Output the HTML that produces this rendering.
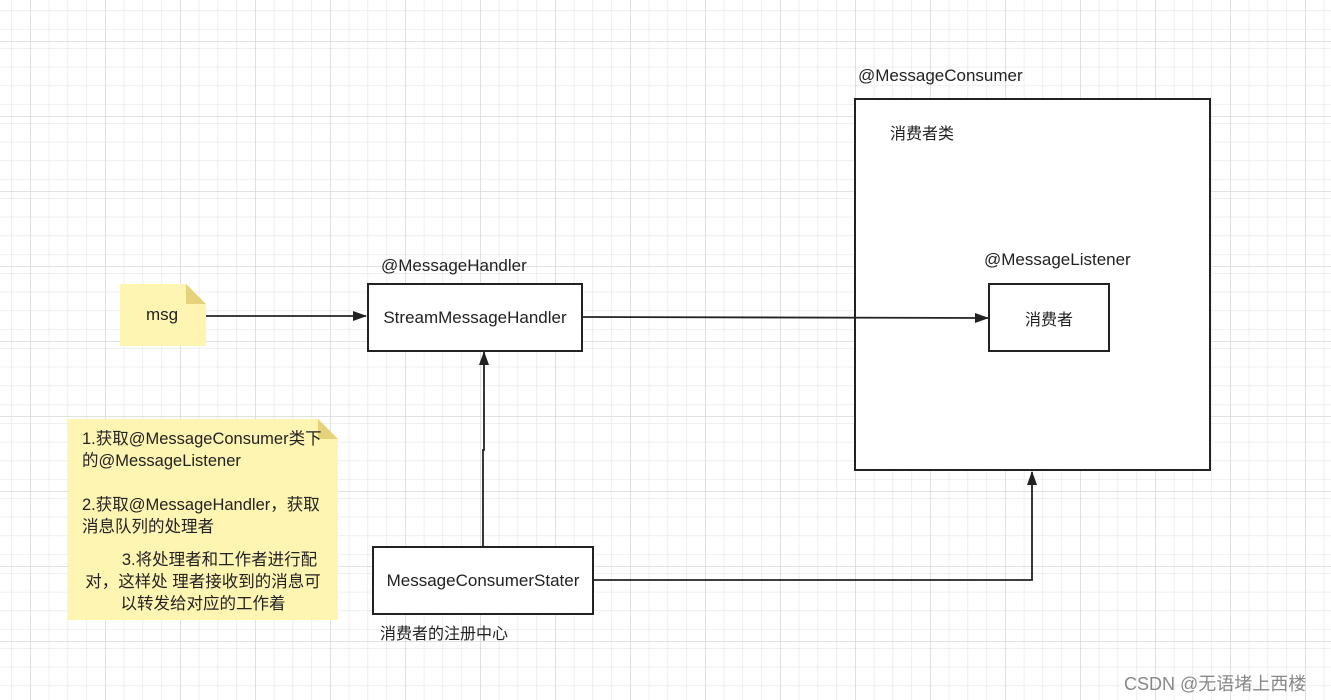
<!DOCTYPE html>
<html><head><meta charset="utf-8"><style>
body{margin:0;width:1331px;height:700px;overflow:hidden;background:#fff;font-family:"Liberation Sans","Noto Sans CJK SC",sans-serif;}
.t{position:absolute;font-size:17px;color:#222;white-space:nowrap}
.box{position:absolute;border:2px solid #222;background:#fff;box-sizing:border-box;display:flex;align-items:center;justify-content:center;font-size:17px;color:#222}
</style></head><body>
<svg width="1331" height="700" style="position:absolute;left:0;top:0">
<defs>
<pattern id="g" x="11.25" y="10.5" width="18.75" height="18.75" patternUnits="userSpaceOnUse"><path d="M0 0H18.75M0 0V18.75" stroke="#e6e6e6" stroke-width="1.3" fill="none"/></pattern>
<pattern id="G" x="30" y="41" width="75" height="75" patternUnits="userSpaceOnUse"><path d="M0 0H75M0 0V75" stroke="#d8d8d8" stroke-width="1.5" fill="none"/></pattern>
<marker id="a" markerWidth="14" markerHeight="12" refX="13" refY="6" orient="auto" markerUnits="userSpaceOnUse"><path d="M0 1L14 6L0 11Z" fill="#222"/></marker>
</defs>
<rect width="1331" height="700" fill="url(#g)"/>
<rect width="1331" height="700" fill="url(#G)"/>
<polygon points="120,284 186,284 206,304 206,346 120,346" fill="#fff5b3"/>
<polygon points="186,284 206,304 186,304" fill="#e6d27a"/>
<polygon points="68,419 318,419 338,439 338,620 68,620" fill="#fff5b3"/>
<polygon points="318,419 338,439 318,439" fill="#e6d27a"/>
<rect x="855" y="99" width="355" height="371" fill="#fff" stroke="#222" stroke-width="2"/>
<g stroke="#222" stroke-width="1.8" fill="none">
<line x1="206" y1="316" x2="366" y2="316" marker-end="url(#a)"/>
<line x1="583" y1="317" x2="988" y2="318" marker-end="url(#a)"/>
<polyline points="483,546 483,450 484,450 484,352" marker-end="url(#a)"/>
<polyline points="594,580 1032,580 1032,472" marker-end="url(#a)"/>
</g>
</svg>
<div class="t" style="left:146px;top:305px">msg</div>
<div class="t" style="left:381px;top:256px">@MessageHandler</div>
<div class="box" style="left:367px;top:283px;width:216px;height:69px">StreamMessageHandler</div>
<div class="t" style="left:858px;top:66px">@MessageConsumer</div>
<div class="t" style="left:890px;top:120px;font-size:16px">消费者类</div>
<div class="t" style="left:984px;top:250px">@MessageListener</div>
<div class="box" style="left:988px;top:283px;width:122px;height:69px;font-size:16px">消费者</div>
<div class="box" style="left:372px;top:546px;width:222px;height:69px">MessageConsumerStater</div>
<div class="t" style="left:380px;top:620px;font-size:16px">消费者的注册中心</div>
<div class="t" style="left:82px;top:428px;line-height:22px;font-size:16.5px">1.获取@MessageConsumer类下<br>的@MessageListener<br><br>2.获取@MessageHandler，获取<br>消息队列的处理者</div>
<div class="t" style="left:72px;top:549px;width:262px;line-height:22px;font-size:16.5px;text-align:center">　　3.将处理者和工作者进行配<br>对，这样处 理者接收到的消息可<br>以转发给对应的工作着</div>
<div class="t" style="left:1124px;top:670px;font-size:18px;color:#888">CSDN @无语堵上西楼</div>
</body></html>
